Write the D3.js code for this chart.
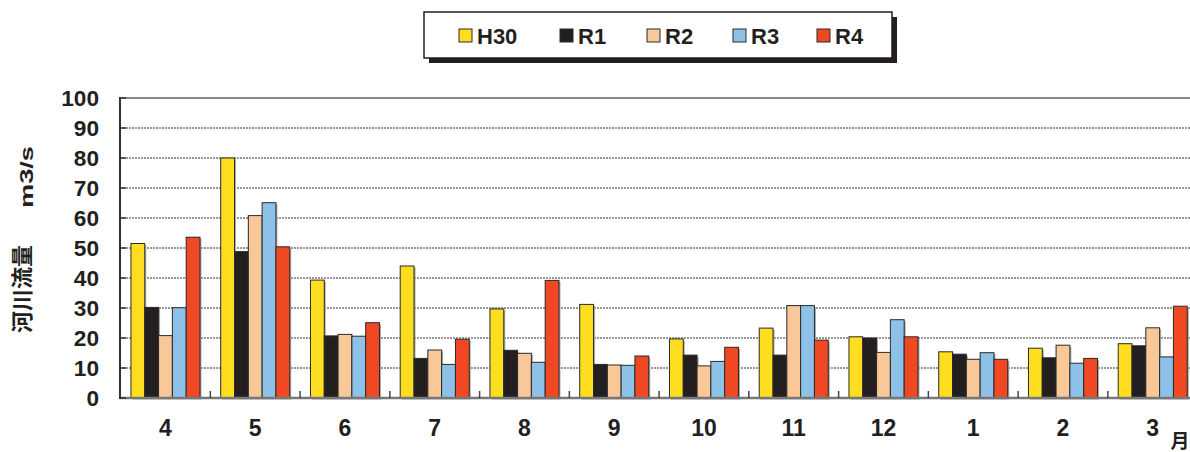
<!DOCTYPE html>
<html><head><meta charset="utf-8">
<script src="https://cdn.jsdelivr.net/npm/d3@7"></script>
<style>body{margin:0;background:#fff;} svg{display:block;font-family:"Liberation Sans",Arial,Helvetica,sans-serif;}</style>
</head><body><svg id="c" width="1190" height="452"></svg>
<script>
const months = ["4","5","6","7","8","9","10","11","12","1","2","3"];
const seriesNames = ["H30","R1","R2","R3","R4"];
const H30 = [51.5,80,39.3,44,29.7,31.2,19.7,23.3,20.4,15.4,16.6,18.1];
const R1  = [30.2,48.8,20.7,13.2,15.9,11.2,14.3,14.3,20,14.6,13.4,17.4];
const R2  = [20.8,60.8,21.2,16,14.9,11,10.7,30.8,15.2,12.9,17.6,23.4];
const R3  = [30.1,65.1,20.6,11.2,11.9,10.9,12.2,30.8,26.1,15.1,11.6,13.7];
const R4  = [53.6,50.4,25.1,19.6,39.2,14,16.9,19.3,20.4,12.9,13.2,30.6];
const yTicks = [0,10,20,30,40,50,60,70,80,90,100];
const colors = ["#FFDD1F","#231F20","#F9C898","#8EC1E8","#EF4823"];
const seriesVals = [H30,R1,R2,R3,R4];

const svg = d3.select("#c");
const pLeft = 120, pTop = 98, pBottom = 398;
const x0 = d3.scaleBand().domain(months).range([120.6, 1197.6]).paddingInner(0.231).paddingOuter(0.1155);
const x1 = d3.scaleBand().domain(seriesNames).range([0, x0.bandwidth()]);
const y = d3.scaleLinear().domain([0,100]).range([pBottom, pTop]);

// gridlines
svg.append("g").selectAll("line").data(yTicks.filter(t=>t>0&&t<100)).join("line")
  .attr("x1", pLeft).attr("x2", 1190).attr("y1", d=>y(d)).attr("y2", d=>y(d))
  .attr("stroke","#333").attr("stroke-width",1).attr("stroke-dasharray","2,1");
// top border
svg.append("line").attr("x1",pLeft).attr("x2",1190).attr("y1",y(100)).attr("y2",y(100))
  .attr("stroke","#888").attr("stroke-width",2);

// bars
const g = svg.append("g");
months.forEach((m,i)=>{
  seriesNames.forEach((s,j)=>{
    const v = seriesVals[j][i];
    g.append("rect").attr("x", x0(m)+x1(s)+1.5).attr("y", y(v)+1.5)
      .attr("width", x1.bandwidth()).attr("height", y(0)-y(v))
      .attr("fill","#aaa");
    g.append("rect").attr("x", x0(m)+x1(s)).attr("y", y(v))
      .attr("width", x1.bandwidth()).attr("height", y(0)-y(v))
      .attr("fill", colors[j]).attr("stroke","#2a2a2a").attr("stroke-width",1);
  });
});

// x axis
svg.append("line").attr("x1",pLeft).attr("x2",1190).attr("y1",pBottom).attr("y2",pBottom)
  .attr("stroke","#777").attr("stroke-width",2.5);
const bounds = months.slice(1).map((m)=> x0(m) - x0.step()*x0.paddingInner()/2);
svg.append("g").selectAll("line").data(bounds).join("line")
  .attr("x1",d=>d).attr("x2",d=>d).attr("y1",pBottom).attr("y2",pBottom-7)
  .attr("stroke","#444").attr("stroke-width",1.5);
svg.append("g").selectAll("text").data(months).join("text")
  .attr("x", d=>x0(d)+x0.bandwidth()/2).attr("y", 436)
  .attr("text-anchor","middle").attr("font-size",23).attr("font-weight","bold").attr("fill","#231F20")
  .text(d=>d);
svg.append("text").attr("x",1180).attr("y",448).attr("text-anchor","middle")
  .attr("font-size",19).attr("font-weight","bold").attr("fill","#231F20")
  .attr("font-family","'Noto Sans CJK JP',sans-serif").text("月");

// y axis
svg.append("line").attr("x1",pLeft).attr("x2",pLeft).attr("y1",pTop-1).attr("y2",pBottom+1)
  .attr("stroke","#333").attr("stroke-width",2);
svg.append("g").selectAll("line").data(yTicks).join("line")
  .attr("x1",pLeft).attr("x2",pLeft+6).attr("y1",d=>y(d)).attr("y2",d=>y(d))
  .attr("stroke","#333").attr("stroke-width",1.5);
svg.append("g").selectAll("text").data(yTicks).join("text")
  .attr("x",99).attr("y",d=>y(d)+8).attr("text-anchor","end")
  .attr("font-size",22).attr("font-weight","bold").attr("fill","#231F20")
  .attr("textLength", d=>String(d).length*12.6).attr("lengthAdjust","spacingAndGlyphs")
  .text(d=>d);
svg.append("text").attr("transform","translate(30,289) rotate(-90)")
  .attr("text-anchor","middle").attr("font-size",22).attr("font-weight","bold").attr("fill","#231F20")
  .attr("font-family","'Noto Sans CJK JP',sans-serif")
  .text("河川流量");
svg.append("text").attr("transform","translate(33,177) rotate(-90)")
  .attr("text-anchor","middle").attr("font-size",18).attr("font-weight","bold").attr("fill","#231F20")
  .attr("textLength",62).attr("lengthAdjust","spacingAndGlyphs")
  .text("m3/s");

// legend
const lg = svg.append("g");
lg.append("rect").attr("x",429).attr("y",17).attr("width",468).attr("height",46).attr("fill","#231F20");
lg.append("rect").attr("x",424).attr("y",12).attr("width",468).attr("height",46).attr("fill","#fff")
  .attr("stroke","#231F20").attr("stroke-width",1.5);
const lx = [459,560,647,733,817];
seriesNames.forEach((s,j)=>{
  lg.append("rect").attr("x",lx[j]).attr("y",29).attr("width",13).attr("height",13)
    .attr("fill",colors[j]).attr("stroke","#2a2a2a").attr("stroke-width",1);
  lg.append("text").attr("x",lx[j]+18).attr("y",44).attr("font-size",22).attr("font-weight","bold")
    .attr("fill","#231F20").text(s);
});
</script></body></html>
